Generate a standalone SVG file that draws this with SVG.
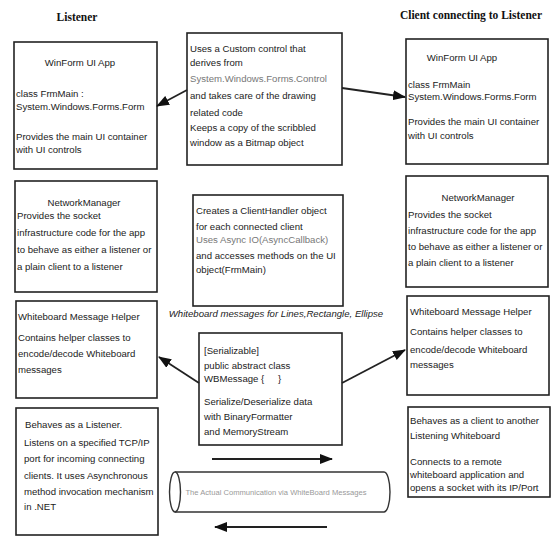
<svg xmlns="http://www.w3.org/2000/svg" width="560" height="538" viewBox="0 0 560 538">
<style>
.box{fill:#fff;stroke:#222;stroke-width:1.6}
.t{font-family:"Liberation Sans",Arial,sans-serif;font-size:9.6px;fill:#222}
.g{fill:#777}
.c{text-anchor:middle}
.title{font-family:"Liberation Serif","Times New Roman",serif;font-size:11.5px;font-weight:bold;fill:#111;text-anchor:middle}
.ln{stroke:#222;stroke-width:1.8;fill:none}
.pipe{font-family:"Liberation Sans",Arial,sans-serif;font-size:7.6px;fill:#999;text-anchor:middle}
</style>
<defs>
<marker id="ah" viewBox="0 0 13 10" refX="12" refY="5" markerWidth="13" markerHeight="10" markerUnits="userSpaceOnUse" orient="auto">
<path d="M0,0 L13,5 L0,10 Z" fill="#111"/>
</marker>
</defs>
<rect width="560" height="538" fill="#fff"/>
<text class="title" x="77" y="21">Listener</text>
<text class="title" x="471" y="19">Client connecting to Listener</text>

<g id="l-winform">
<rect class="box" x="14" y="42" width="143" height="127"/>
<text class="t c" x="80" y="66">WinForm UI App</text>
<text class="t" x="16" y="97">class FrmMain :</text>
<text class="t" x="16" y="110">System.Windows.Forms.Form</text>
<text class="t" x="16" y="140">Provides the main UI container</text>
<text class="t" x="16" y="153">with UI controls</text>
</g>
<g id="l-network">
<rect class="box" x="15" y="181" width="142" height="111"/>
<text class="t c" x="84" y="206">NetworkManager</text>
<text class="t" x="17" y="219">Provides the socket</text>
<text class="t" x="17" y="236">infrastructure code for the app</text>
<text class="t" x="17" y="253">to behave as either a listener or</text>
<text class="t" x="17" y="270">a plain client to a listener</text>
</g>
<g id="l-helper">
<rect class="box" x="16" y="301" width="141" height="97"/>
<text class="t" x="18" y="320">Whiteboard Message Helper</text>
<text class="t" x="18" y="341">Contains helper classes to</text>
<text class="t" x="18" y="357">encode/decode Whiteboard</text>
<text class="t" x="18" y="373">messages</text>
</g>
<g id="l-listener">
<rect class="box" x="16" y="408" width="142" height="127"/>
<text class="t" x="25" y="428">Behaves as a Listener.</text>
<text class="t" x="24" y="446">Listens on a specified TCP/IP</text>
<text class="t" x="24" y="462">port for incoming connecting</text>
<text class="t" x="24" y="479">clients. It uses Asynchronous</text>
<text class="t" x="24" y="495">method invocation mechanism</text>
<text class="t" x="24" y="510">in .NET</text>
</g>

<g id="r-winform">
<rect class="box" x="406" y="39" width="142" height="125"/>
<text class="t c" x="462" y="61">WinForm UI App</text>
<text class="t" x="408" y="88">class FrmMain</text>
<text class="t" x="408" y="100">System.Windows.Forms.Form</text>
<text class="t" x="408" y="125">Provides the main UI container</text>
<text class="t" x="408" y="139">with UI controls</text>
</g>
<g id="r-network">
<rect class="box" x="406" y="176" width="142" height="111"/>
<text class="t c" x="478" y="201">NetworkManager</text>
<text class="t" x="408" y="218">Provides the socket</text>
<text class="t" x="408" y="234">infrastructure code for the app</text>
<text class="t" x="408" y="250">to behave as either a listener or</text>
<text class="t" x="408" y="266">a plain client to a listener</text>
</g>
<g id="r-helper">
<rect class="box" x="407" y="296" width="142" height="99"/>
<text class="t" x="410" y="315">Whiteboard Message Helper</text>
<text class="t" x="410" y="335">Contains helper classes to</text>
<text class="t" x="410" y="353">encode/decode Whiteboard</text>
<text class="t" x="410" y="368">messages</text>
</g>
<g id="r-client">
<rect class="box" x="408" y="407" width="142" height="90"/>
<text class="t" x="410" y="424">Behaves as a client to another</text>
<text class="t" x="410" y="439">Listening Whiteboard</text>
<text class="t" x="410" y="465">Connects to a remote</text>
<text class="t" x="410" y="478">whiteboard application and</text>
<text class="t" x="410" y="491">opens a socket with its IP/Port</text>
</g>

<g id="m-control">
<rect class="box" x="187" y="33" width="155" height="132"/>
<text class="t" x="190" y="52">Uses a Custom control that</text>
<text class="t" x="190" y="66">derives from</text>
<text class="t g" x="190" y="82">System.Windows.Forms.Control</text>
<text class="t" x="190" y="99">and takes care of the drawing</text>
<text class="t" x="190" y="116">related code</text>
<text class="t" x="190" y="131">Keeps a copy of the scribbled</text>
<text class="t" x="190" y="146">window as a Bitmap object</text>
</g>
<g id="m-handler">
<rect class="box" x="193" y="195" width="150" height="111"/>
<text class="t" x="196" y="214">Creates a ClientHandler object</text>
<text class="t" x="196" y="230">for each connected client</text>
<text class="t g" x="196" y="243">Uses Async IO(AsyncCallback)</text>
<text class="t" x="196" y="259">and accesses methods on the UI</text>
<text class="t" x="196" y="273">object(FrmMain)</text>
</g>
<text class="t" x="276" y="317" font-style="italic" text-anchor="middle">Whiteboard messages for Lines,Rectangle, Ellipse</text>
<g id="m-message">
<rect class="box" x="199" y="333" width="143" height="112"/>
<text class="t" x="204" y="354">[Serializable]</text>
<text class="t" x="204" y="369">public abstract class</text>
<text class="t" x="204" y="382">WBMessage {</text>
<text class="t" x="278" y="382">}</text>
<text class="t" x="204" y="405">Serialize/Deserialize data</text>
<text class="t" x="204" y="420">with BinaryFormatter</text>
<text class="t" x="204" y="435">and MemoryStream</text>
</g>

<g id="channel">
<path d="M175,472 L384,472 M175,512 L384,512" stroke="#333" stroke-width="1.4" fill="none"/>
<ellipse cx="175" cy="492" rx="5.5" ry="20" fill="#fff" stroke="#333" stroke-width="1.4"/>
<path d="M384,472 A6,20 0 0 1 384,512" stroke="#333" stroke-width="1.4" fill="none"/>
<text class="pipe" x="276" y="495">The Actual Communication via WhiteBoard Messages</text>
</g>

<g id="connectors">
<line class="ln" x1="187" y1="90" x2="157" y2="106" marker-end="url(#ah)"/>
<line class="ln" x1="342" y1="88" x2="405" y2="97" marker-end="url(#ah)"/>
<line class="ln" x1="199" y1="383" x2="159" y2="357" marker-end="url(#ah)"/>
<line class="ln" x1="342" y1="383" x2="405" y2="350" marker-end="url(#ah)"/>
<line class="ln" x1="212" y1="459" x2="332" y2="459" marker-end="url(#ah)"/>
<line class="ln" x1="327" y1="527" x2="215" y2="527" marker-end="url(#ah)"/>
</g>
</svg>
